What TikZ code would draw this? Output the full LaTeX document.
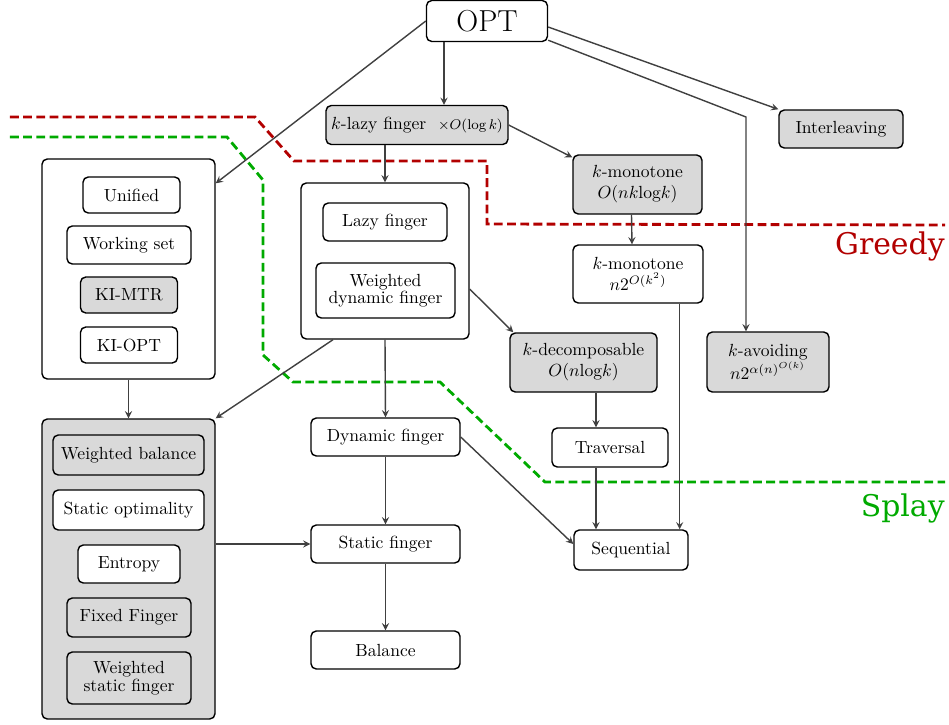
\documentclass[tikz,border=0pt]{standalone}
\usepackage{fontspec}
\usepackage{amsmath}
\usetikzlibrary{arrows}
\newfontfamily\sidefont{DejaVu Serif}
\definecolor{greedyred}{RGB}{178,0,0}
\definecolor{splaygreen}{RGB}{0,170,0}
\tikzstyle{arrow} = [thick, draw=black!75, ->, >=stealth]
\tikzstyle{box}=[draw, thick, rounded corners=3pt, align=center, inner sep=2pt, minimum height=0.76cm]
\tikzstyle{gbox}=[box, fill=black!15]
\tikzstyle{split}=[line width=1.6pt, dash pattern=on 5pt off 2.5pt]

\begin{document}
\begin{tikzpicture}
    \useasboundingbox (0,0) rectangle (18.98,-14.48);
    % greedy / splay borders
    \draw [split, greedyred] (0.2,-2.34) -- (5.1,-2.34) -- (5.88,-3.22) -- (9.74,-3.22) -- (9.74,-4.48) -- (18.9,-4.5);
    \draw [split, splaygreen] (0.2,-2.74) -- (4.54,-2.74) -- (5.26,-3.6) -- (5.26,-7.1) -- (5.86,-7.64) -- (8.8,-7.64) -- (10.9,-9.64) -- (18.9,-9.64);
    \node (g) [anchor=east, inner sep=0pt, text=greedyred, font=\sidefont\fontsize{17}{20}\selectfont] at (18.9,-4.92) {Greedy};
    \node (p) [anchor=east, inner sep=0pt, text=splaygreen, font=\sidefont\fontsize{17}{20}\selectfont] at (18.9,-10.16) {Splay};

    % containers
    \node (ca) [box, minimum width=3.46cm, minimum height=4.4cm] at (2.57,-5.38) {};
    \node (cb) [box, minimum width=3.36cm, minimum height=3.12cm] at (7.7,-5.22) {};
    \node (cc) [gbox, minimum width=3.46cm, minimum height=6.0cm] at (2.57,-11.38) {};

    % top
    \node (opt) [box, font=\LARGE, minimum width=2.42cm, minimum height=0.82cm] at (9.74,-0.42) {OPT};
    \node (lk) [gbox, minimum width=3.64cm, minimum height=0.78cm] at (8.34,-2.50) {$k$-lazy finger \ {\footnotesize$\times O(\log k)$}};
    \node (il) [gbox, minimum width=2.48cm] at (16.82,-2.58) {Interleaving};
    \node (m1) [gbox, minimum width=2.58cm, minimum height=1.18cm] at (12.75,-3.69) {$k$-monotone\\$O(nk\mathrm{log}k)$};
    \node (m2) [box, minimum width=2.6cm, minimum height=1.16cm] at (12.76,-5.48) {$k$-monotone\\$n2^{O(k^2)}$};
    \node (dc) [gbox, minimum width=2.94cm, minimum height=1.18cm] at (11.67,-7.25) {$k$-decomposable\\$O(n\mathrm{log}k)$};
    \node (av) [gbox, minimum width=2.44cm, minimum height=1.2cm] at (15.36,-7.24) {$k$-avoiding\\$n2^{\alpha(n)^{O(k)}}$};
    \node (tr) [box, minimum width=2.32cm, minimum height=0.78cm] at (12.2,-8.95) {Traversal};
    \node (sq) [box, minimum width=2.28cm, minimum height=0.8cm] at (12.62,-11.0) {Sequential};

    % finger column
    \node (df) [box, minimum width=2.98cm] at (7.71,-8.74) {Dynamic finger};
    \node (sf) [box, minimum width=2.98cm, node distance=2.14cm, below of=df] {Static finger};
    \node (bl) [box, minimum width=2.98cm, node distance=2.12cm, below of=sf] {Balance};

    % inside ca
    \node (un) [box, minimum width=1.94cm, minimum height=0.72cm] at (2.63,-3.9) {Unified};
    \node (ws) [box, minimum width=2.48cm, node distance=1.0cm, below of=un, xshift=-0.05cm] {Working set};
    \node (km) [gbox, minimum width=1.94cm, minimum height=0.72cm, node distance=1.0cm, below of=ws] {KI-MTR};
    \node (ko) [box, minimum width=1.94cm, minimum height=0.72cm, node distance=1.0cm, below of=km] {KI-OPT};

    % inside cb
    \node (lf) [box, minimum width=2.48cm] at (7.7,-4.44) {Lazy finger};
    \node (wd) [box, minimum width=2.78cm, minimum height=1.1cm] at (7.71,-5.81) {Weighted\\[-2pt]dynamic finger};

    % inside cc
    \node (wb) [gbox, minimum width=3.02cm, minimum height=0.8cm] at (2.57,-9.1) {Weighted balance};
    \node (so) [box, fill=white, minimum width=3.02cm, minimum height=0.8cm] at (2.57,-10.2) {Static optimality};
    \node (en) [box, fill=white, minimum width=2.04cm] at (2.58,-11.28) {Entropy};
    \node (ff) [gbox, minimum width=2.48cm, minimum height=0.78cm] at (2.58,-12.35) {Fixed Finger};
    \node (wsf) [gbox, minimum width=2.48cm, minimum height=1.04cm] at (2.58,-13.56) {Weighted\\[-2pt]static finger};

    % connectors
    \coordinate (c1) at (8.88,-0.42);
    \coordinate (c2) at (14.92,-2.34);
    \draw [arrow] (opt.south -| c1) -- (lk.north -| c1);
    \draw [arrow] (opt.west) -- ([yshift=-0.5cm]ca.north east);
    \draw [arrow] ([yshift=-0.12cm]opt.east) -- (il.north west);
    \draw [arrow] ([yshift=0.04cm]opt.south east) -- (c2) -- (c2 |- av.north);
    \draw [arrow] (lk.east) -- ([yshift=-0.06cm]m1.north west);
    \draw [arrow] (lk.south -| cb.north) -- (cb.north);
    \draw [arrow] ([xshift=-0.12cm]m1.south) -- ([xshift=-0.12cm]m2.north);
    \draw [arrow] ([xshift=-0.48cm]m2.south east) -- ([xshift=-0.48cm]m2.south east |- sq.north);
    \draw [arrow] ([yshift=-0.56cm]cb.east) -- ([xshift=0.08cm]dc.north west);
    \draw [arrow] (cb.south) -- (df.north);
    \draw [arrow] ([xshift=-1.04cm]cb.south) -- (cc.north east);
    \draw [arrow] (ca.south) -- (cc.north);
    \draw [arrow] ([xshift=0.25cm]dc.south) -- ([xshift=0.25cm]dc.south |- tr.north);
    \draw [arrow] ([xshift=-0.28cm]tr.south) -- ([xshift=-0.28cm]tr.south |- sq.north);
    \draw [arrow] (df.east) -- ([yshift=0.12cm]sq.west);
    \draw [arrow] (df) -- (sf);
    \draw [arrow] (sf) -- (bl);
    \draw [arrow] (cc.east |- sf.west) -- (sf.west);
\end{tikzpicture}
\end{document}
